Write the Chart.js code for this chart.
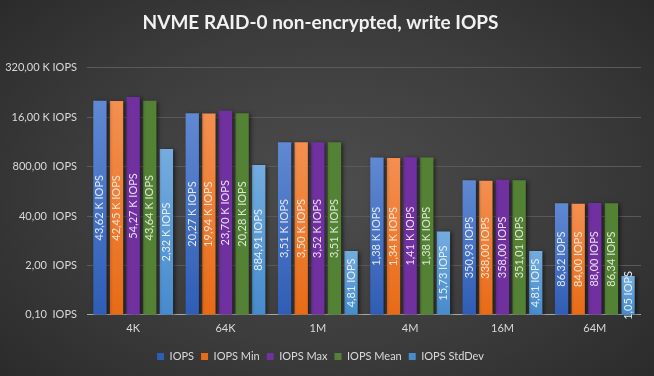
<!DOCTYPE html>
<html><head><meta charset="utf-8">
<script src="https://cdn.jsdelivr.net/npm/chart.js@4"></script>
<style>
html,body{margin:0;padding:0;}
body{width:654px;height:376px;overflow:hidden;background:radial-gradient(ellipse 75% 85% at 50% 50%, #4d4d4d 0%, #3c3c3c 50%, #262626 100%);}
#wrap{position:relative;width:654px;height:376px;}
</style></head>
<body><div id="wrap"><canvas id="c" width="654" height="376"></canvas></div>
<script>
const categories = ['4K','64K','1M','4M','16M','64M'];
const seriesNames = ['IOPS','IOPS Min','IOPS Max','IOPS Mean','IOPS StdDev'];
const iops       = [43620, 20270, 3510, 1380, 350.93, 86.32];
const iopsMin    = [42450, 19940, 3500, 1340, 338.00, 84.00];
const iopsMax    = [54270, 23700, 3520, 1410, 358.00, 88.00];
const iopsMean   = [43640, 20280, 3510, 1380, 351.01, 86.34];
const iopsStdDev = [2320, 884.91, 4.81, 15.73, 4.81, 1.05];
const tickValues = [0.1, 2, 40, 800, 16000, 320000];
const tickLabels = ['0,10  IOPS','2,00  IOPS','40,00  IOPS','800,00  IOPS','16,00 K IOPS','320,00 K IOPS'];

const seriesData = [iops, iopsMin, iopsMax, iopsMean, iopsStdDev];
const solidColors  = ['#4472c4','#ed7d31','#7030a0','#548235','#5b9bd5'];
const topColors    = ['#6089d2','#f48f50','#7030a0','#548235','#74acde'];
const bottomColors = ['#2f5db6','#e86b16','#7030a0','#548235','#468bcd'];
const labelColors  = ['#dfe7f7','#fde5d2','#eadcf3','#dbe9cf','#e2eef9'];

function fmt(v){
  if (v >= 1000) return (v/1000).toFixed(2).replace('.', ',') + ' K IOPS';
  return v.toFixed(2).replace('.', ',') + ' IOPS';
}

function barFill(ctx){
  const ds = ctx.datasetIndex;
  if (ctx.type !== 'data') return solidColors[ds];
  const chart = ctx.chart, y = chart.scales && chart.scales.y;
  if (!y || !chart.chartArea) return solidColors[ds];
  const top = y.getPixelForValue(ctx.raw), bottom = y.bottom;
  if (!isFinite(top) || !isFinite(bottom) || bottom <= top) return solidColors[ds];
  const g = chart.ctx.createLinearGradient(0, top, 0, bottom);
  g.addColorStop(0, topColors[ds]);
  g.addColorStop(1, bottomColors[ds]);
  return g;
}

const shadowPlugin = {
  id: 'barShadow',
  beforeDatasetsDraw(chart){
    const c = chart.ctx; c.save();
    c.shadowColor = 'rgba(0,0,0,0.55)'; c.shadowBlur = 4; c.shadowOffsetX = 2; c.shadowOffsetY = 1;
  },
  afterDatasetsDraw(chart){
    const c = chart.ctx; c.restore();
    c.save();
    c.font = '11px Lato, "Open Sans", sans-serif';
    c.textAlign = 'center'; c.textBaseline = 'middle';
    chart.data.datasets.forEach((d, di) => {
      const meta = chart.getDatasetMeta(di);
      meta.data.forEach((el, i) => {
        const cy = (el.y + el.base) / 2;
        c.save();
        c.translate(el.x, cy);
        c.rotate(-Math.PI/2);
        c.fillStyle = labelColors[di];
        c.fillText(fmt(d.data[i]), 0, 0);
        c.restore();
      });
    });
    c.restore();
  }
};

new Chart(document.getElementById('c'), {
  type: 'bar',
  data: {
    labels: categories,
    datasets: seriesNames.map((n, i) => ({
      label: n, data: seriesData[i], backgroundColor: barFill, borderWidth: 0,
      categoryPercentage: 0.9, barPercentage: 0.8
    }))
  },
  options: {
    responsive: false, animation: false, devicePixelRatio: 1,
    layout: { padding: { left: 0, right: 13, top: 0, bottom: 4 } },
    plugins: {
      title: { display: true, text: 'NVME RAID-0 non-encrypted, write IOPS', color: '#f2f2f2',
        font: { family: 'Lato', size: 19, weight: 'bold' }, padding: { top: 11, bottom: 34 } },
      legend: { position: 'bottom', labels: { color: '#d9d9d9', boxWidth: 7, boxHeight: 7, padding: 7,
        font: { family: 'Lato', size: 11 } } },
      tooltip: { enabled: false }
    },
    scales: {
      x: {
        grid: { display: false }, border: { display: false },
        afterFit(scale){ scale.height += 10; },
        ticks: { color: '#d9d9d9', font: { family: 'Lato', size: 11 }, padding: -1 }
      },
      y: {
        type: 'logarithmic', min: 0.1, max: 320000,
        afterBuildTicks(scale){ scale.ticks = tickValues.map(v => ({ value: v })); },
        afterFit(scale){ scale.width = 87; },
        grid: { color: (c) => c.index === 0 ? '#a6a6a6' : '#5a5a5a', drawTicks: false, lineWidth: 1 },
        border: { display: false },
        ticks: { color: '#d9d9d9', font: { family: 'Lato', size: 11 }, padding: 10,
          callback: (v, i) => tickLabels[i] }
      }
    }
  },
  plugins: [shadowPlugin]
});
</script>
</body></html>
